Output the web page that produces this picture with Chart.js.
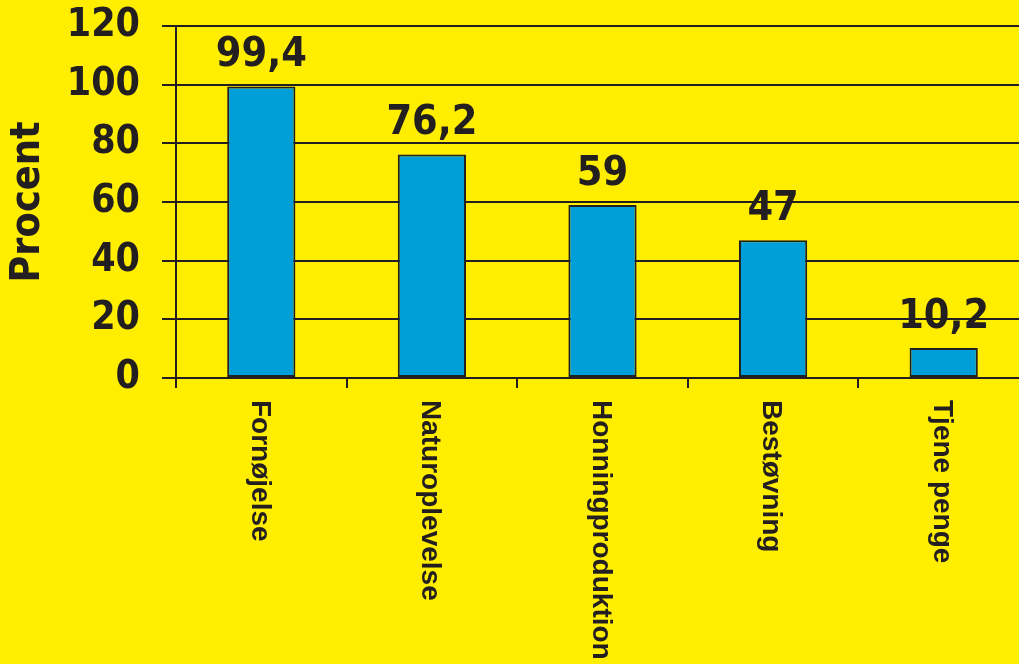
<!DOCTYPE html>
<html>
<head>
<meta charset="utf-8">
<script src="https://cdn.jsdelivr.net/npm/chart.js@4"></script>
<style>
  html, body { margin: 0; padding: 0; overflow: hidden; background: #FFEE00; }
  #wrap { width: 1019px; height: 664px; overflow: hidden; }
  canvas { display: block; background: #FFEE00; }
</style>
</head>
<body>
<div id="wrap"><canvas id="beeChart" width="1030" height="664"></canvas></div>
<script>
// Motiver for biavl, procent
const categories = ["Fornøjelse", "Naturoplevelse", "Honningproduktion", "Bestøvning", "Tjene penge"];
const procentValues = [99.4, 76.2, 59, 47, 10.2];
const yTicks = [0, 20, 40, 60, 80, 100, 120];

const ink = "#231F20";
const barBlue = "#009FDA";
const numFont = "'DejaVu Sans Condensed', 'DejaVu Sans', sans-serif";

// values above the bars and the rotated category names
const labelPlugin = {
  id: "barLabels",
  afterDatasetsDraw(chart) {
    const ctx = chart.ctx;
    const meta = chart.getDatasetMeta(0);
    ctx.save();
    ctx.fillStyle = ink;
    ctx.font = "bold 41px " + numFont;
    ctx.textAlign = "center";
    ctx.textBaseline = "alphabetic";
    meta.data.forEach((bar, i) => {
      const txt = String(procentValues[i]).replace(".", ",");
      ctx.fillText(txt, bar.x, bar.y - 20);
    });
    ctx.restore();

    const xScale = chart.scales.x;
    ctx.save();
    ctx.fillStyle = ink;
    ctx.font = "bold 28px 'Liberation Sans', Arial, sans-serif";
    ctx.textAlign = "left";
    ctx.textBaseline = "middle";
    categories.forEach((name, i) => {
      const x = xScale.getPixelForTick(i);
      ctx.save();
      ctx.translate(x - 2, chart.chartArea.bottom + 22);
      ctx.rotate(Math.PI / 2);
      ctx.fillText(name, 0, 0);
      ctx.restore();
    });
    ctx.restore();
  }
};

new Chart(document.getElementById("beeChart").getContext("2d"), {
  type: "bar",
  data: {
    labels: categories,
    datasets: [{
      label: "Procent",
      data: procentValues,
      backgroundColor: barBlue,
      borderColor: ink,
      borderWidth: 2,
      borderSkipped: false,
      barPercentage: 0.4,
      categoryPercentage: 1.0
    }]
  },
  options: {
    responsive: false,
    animation: false,
    devicePixelRatio: 1,
    layout: { padding: { top: 26, right: 1, bottom: 0, left: 0 } },
    plugins: {
      legend: { display: false },
      tooltip: { enabled: false }
    },
    scales: {
      x: {
        offset: true,
        afterFit(scale) { scale.height = 286; },
        grid: {
          drawOnChartArea: false,
          drawTicks: true,
          tickLength: 10,
          color: ink,
          lineWidth: 2,
          offset: true
        },
        border: { color: ink, width: 2 },
        ticks: { display: false }
      },
      y: {
        min: 0,
        max: 120,
        afterFit(scale) {
          scale.width = 176;
          scale.paddingTop = 0;
          scale.paddingBottom = 0;
        },
        afterBuildTicks(scale) { scale.ticks = yTicks.map(v => ({ value: v })); },
        title: {
          display: true,
          text: "Procent",
          color: ink,
          font: { family: numFont, size: 41, weight: "bold" },
          padding: { top: 4, bottom: 0 }
        },
        grid: {
          color: ink,
          lineWidth: 2,
          drawTicks: true,
          tickLength: 14
        },
        border: { color: ink, width: 2 },
        ticks: {
          color: ink,
          padding: 22,
          font: { family: numFont, size: 39, weight: "bold" }
        }
      }
    }
  },
  plugins: [labelPlugin]
});
</script>
</body>
</html>
